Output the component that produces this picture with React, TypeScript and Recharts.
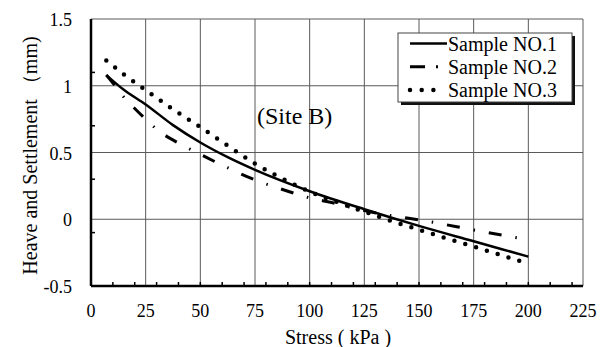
import React from 'react';
import { LineChart, Line, XAxis, YAxis, ReferenceLine } from 'recharts';

// values
const stress1 = [7, 15, 25, 37.5, 50, 62.5, 75, 100, 125, 150, 175, 200];
const heave1 = [1.08, 0.97, 0.86, 0.705, 0.575, 0.465, 0.37, 0.21, 0.075, -0.05, -0.165, -0.28];

const stress2 = [7, 11, 15, 20, 25, 30, 40, 50, 60, 75, 90, 100, 110, 125, 140, 150, 175, 200];
const heave2 = [1.08, 1.0, 0.915, 0.83, 0.75, 0.675, 0.57, 0.487, 0.405, 0.295, 0.21, 0.16, 0.125, 0.065, 0.02, -0.005, -0.08, -0.155];

const stress3 = [7, 15, 25, 36.6, 50, 62.8, 75, 85, 100, 114, 128, 138, 150, 163, 175, 188, 200];
const heave3 = [1.19, 1.085, 0.968, 0.833, 0.69, 0.548, 0.417, 0.326, 0.207, 0.12, 0.04, -0.016, -0.078, -0.146, -0.205, -0.271, -0.333];

const xMajor = [0, 25, 50, 75, 100, 125, 150, 175, 200, 225];
const xMinor = [10, 20, 30, 40, 50, 60, 70, 80, 90, 100, 110, 120, 130, 140, 150, 160, 170, 180, 190, 200, 210, 220];
const yMajor = [-0.5, 0, 0.5, 1, 1.5];
const yMinor = [-0.1, 0.3, 0.7, 1.1];

const seriesNames = ['Sample NO.1', 'Sample NO.2', 'Sample NO.3'];

const toRows = (xs: number[], ys: number[]) => xs.map((s, i) => ({ s, h: ys[i] }));
const data1 = toRows(stress1, heave1);
const data2 = toRows(stress2, heave2);
const data3 = toRows(stress3, heave3);

const xTicks = Array.from(new Set([...xMajor, ...xMinor])).sort((a, b) => a - b);
const yTicks = Array.from(new Set([...yMajor, ...yMinor])).sort((a, b) => a - b);

const serif = '"Liberation Serif", "Times New Roman", serif';
const gridColor = '#5a5a5a';
const textStyle = { fontFamily: serif };

const styles = [
  { strokeWidth: 2.5 },
  { strokeWidth: 3, strokeDasharray: '13 14 1.5 14' },
  { strokeWidth: 4.5, strokeDasharray: '0 11.3', strokeLinecap: 'round' as const },
];

const XTick = (props: any) => {
  const { x, y, payload } = props;
  const v = payload.value;
  return (
    <g>
      {xMinor.includes(v) && <line x1={x} x2={x} y1={y} y2={y - 4} stroke="#000" strokeWidth={1.5} />}
      {xMajor.includes(v) && (
        <text x={x} y={y + 31} textAnchor="middle" fontSize={18} style={textStyle} fill="#000">
          {v}
        </text>
      )}
    </g>
  );
};

const YTick = (props: any) => {
  const { x, y, payload } = props;
  const v = payload.value;
  return (
    <g>
      {yMinor.includes(v) && <line x1={x} x2={x + 4} y1={y} y2={y} stroke="#000" strokeWidth={1.5} />}
      {yMajor.includes(v) && (
        <text x={x - 19} y={y} dy="0.4em" textAnchor="end" fontSize={18} style={textStyle} fill="#000">
          {String(v)}
        </text>
      )}
    </g>
  );
};

const YTitle = (props: any) => {
  const { x, y, height } = props.viewBox;
  const cx = x + 37;
  const cy = y + height / 2 + 3;
  return (
    <text transform={`translate(${cx},${cy}) rotate(-90)`} textAnchor="middle" fontSize={20} style={textStyle} fill="#000">
      Heave and Settlement （mm)
    </text>
  );
};

const XTitle = (props: any) => {
  const { x, y, width } = props.viewBox;
  return (
    <text x={x + width / 2 + 1} y={y + 58} textAnchor="middle" fontSize={20} style={textStyle} fill="#000">
      Stress ( kPa )
    </text>
  );
};

export default function App() {
  return (
    <div style={{ position: 'absolute', left: 0, top: 0, width: 606, height: 347, background: '#fff' }}>
      <LineChart width={606} height={347} margin={{ top: 19, right: 23, bottom: 0, left: 0 }}>
        {xMajor.slice(1).map((v) => (
          <ReferenceLine key={'gx' + v} x={v} stroke={gridColor} strokeWidth={1} />
        ))}
        {yMajor.slice(1).map((v) => (
          <ReferenceLine key={'gy' + v} y={v} stroke={gridColor} strokeWidth={1} />
        ))}
        <XAxis
          dataKey="s"
          type="number"
          domain={[0, 225]}
          ticks={xTicks}
          interval={0}
          height={61}
          tickSize={0}
          tickMargin={0}
          tickLine={false}
          tick={<XTick />}
          axisLine={{ stroke: '#000', strokeWidth: 2.5 }}
          allowDataOverflow
          label={<XTitle />}
        />
        <YAxis
          type="number"
          domain={[-0.5, 1.5]}
          ticks={yTicks}
          interval={0}
          width={91}
          tickSize={0}
          tickMargin={0}
          tickLine={false}
          tick={<YTick />}
          axisLine={{ stroke: '#000', strokeWidth: 2.5 }}
          allowDataOverflow
          label={<YTitle />}
        />
        <Line data={data1} dataKey="h" name={seriesNames[0]} type="monotone" stroke="#000" {...styles[0]} dot={false} activeDot={false} isAnimationActive={false} />
        <Line data={data2} dataKey="h" name={seriesNames[1]} type="monotone" stroke="#000" {...styles[1]} dot={false} activeDot={false} isAnimationActive={false} />
        <Line data={data3} dataKey="h" name={seriesNames[2]} type="monotone" stroke="#000" {...styles[2]} dot={false} activeDot={false} isAnimationActive={false} />
      </LineChart>

      {/* annotation and legend box */}
      <svg width={606} height={347} style={{ position: 'absolute', left: 0, top: 0, pointerEvents: 'none' }}>
        <text x={257} y={124} fontSize={24} style={textStyle} fill="#000">(Site B)</text>
        <rect x={401} y={36} width={174} height={69} fill="#111" />
        <rect x={398} y={33} width={174} height={69} fill="#fff" stroke="#444" strokeWidth={1} />
        {seriesNames.map((name, i) => {
          const base = 50.5 + i * 23.3;
          const ly = base - 7;
          const x2 = i === 2 ? 437 : 447;
          return (
            <g key={name}>
              <line x1={410} x2={x2} y1={ly} y2={ly} stroke="#000" {...styles[i]}
                strokeDasharray={i === 1 ? '15 11 2 10' : i === 2 ? '0 11.7' : undefined} />
              <text x={448} y={base} fontSize={20} style={textStyle} fill="#000">{name}</text>
            </g>
          );
        })}
      </svg>
    </div>
  );
}
